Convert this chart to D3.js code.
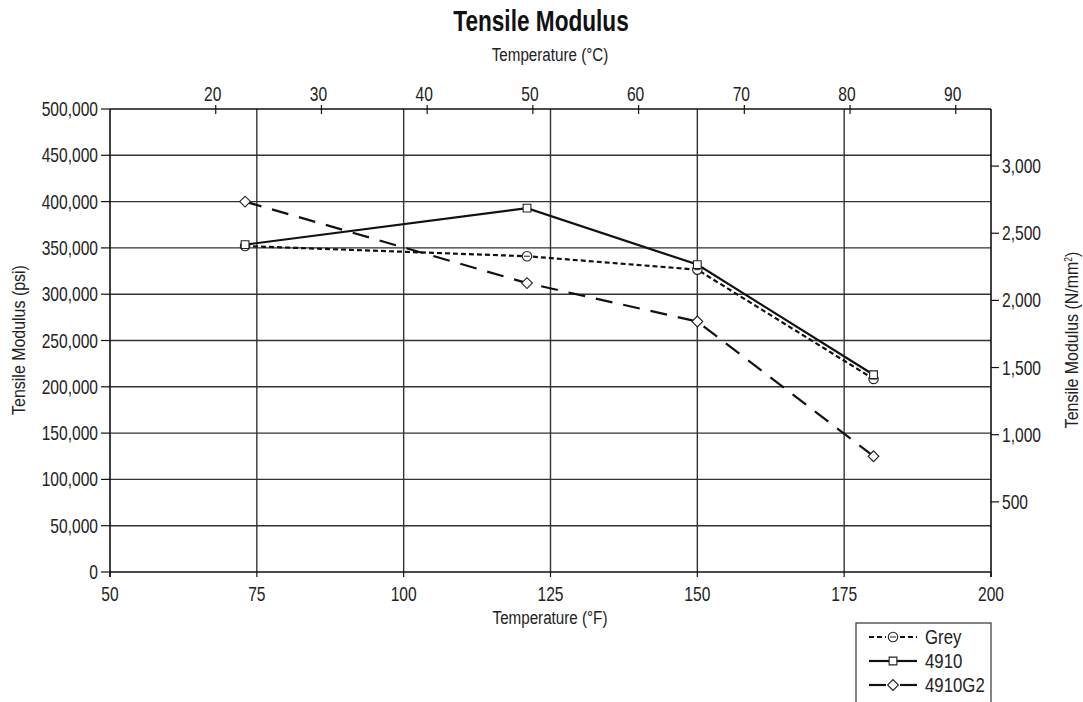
<!DOCTYPE html>
<html><head><meta charset="utf-8">
<script src="https://cdn.jsdelivr.net/npm/d3@7"></script>
<style>
body{margin:0;background:#fff;}
text{font-family:"Liberation Sans",Arial,sans-serif;fill:#222;}
</style></head>
<body><svg id="c" width="1083" height="702"></svg>
<script>
const tempsF = [73, 121, 150, 180];
const greyPsi = [352000, 341000, 326500, 208500];
const s4910Psi = [353500, 393000, 332000, 213000];
const s4910G2Psi = [400000, 312000, 270500, 125000];
const seriesNames = ["Grey", "4910", "4910G2"];
const xTicksF = [50, 75, 100, 125, 150, 175, 200];
const xTicksC = [20, 30, 40, 50, 60, 70, 80, 90];
const yTicksPsi = [0, 50000, 100000, 150000, 200000, 250000, 300000, 350000, 400000, 450000, 500000];
const yTicksN = [500, 1000, 1500, 2000, 2500, 3000];
const psiToN = 0.00689476;

const svg = d3.select("#c");
const L = 110, R = 991, T = 109, B = 572;
const x = d3.scaleLinear().domain([50, 200]).range([L, R]);
const xC = d3.scaleLinear().domain([(50-32)*5/9, (200-32)*5/9]).range([L, R]);
const y = d3.scaleLinear().domain([0, 500000]).range([B, T]);
const yR = d3.scaleLinear().domain([0, 500000*psiToN]).range([B-3, T-3]);
const fmt = d3.format(",");
const font = 20, SX = 0.78;

function ctext(parent, px, py, str, size, anchor, sx, rot) {
  const t = parent.append("text")
    .attr("transform", `translate(${px},${py})` + (rot ? ` rotate(${rot})` : "") + ` scale(${sx},1)`)
    .attr("text-anchor", anchor).attr("dy", "0.35em").attr("font-size", size);
  if (str !== null) t.text(str);
  return t;
}

// gridlines
const g = svg.append("g");
g.selectAll("line.h").data(yTicksPsi.filter(v => v > 0 && v < 500000)).join("line")
  .attr("x1", L).attr("x2", R).attr("y1", d => y(d)).attr("y2", d => y(d))
  .attr("stroke", "#333").attr("stroke-width", 1.4);
g.selectAll("line.v").data(xTicksF.filter(v => v > 50 && v < 200)).join("line")
  .attr("x1", d => x(d)).attr("x2", d => x(d)).attr("y1", T).attr("y2", B)
  .attr("stroke", "#333").attr("stroke-width", 1.4);

// axes
const ax = svg.append("g").attr("stroke", "#111").attr("stroke-width", 1.6);
ax.append("line").attr("x1", L).attr("x2", R).attr("y1", T).attr("y2", T);
ax.append("line").attr("x1", L).attr("x2", R).attr("y1", B).attr("y2", B);
ax.append("line").attr("x1", L).attr("x2", L).attr("y1", T).attr("y2", B + 5);
ax.append("line").attr("x1", R).attr("x2", R).attr("y1", T).attr("y2", B + 5);

const labels = svg.append("g");
// left ticks
ax.selectAll("line.lt").data(yTicksPsi).join("line")
  .attr("x1", L - 9).attr("x2", L).attr("y1", d => y(d)).attr("y2", d => y(d)).attr("stroke-width", 1.2);
yTicksPsi.forEach(d => ctext(labels, L - 12, y(d), fmt(d), font, "end", SX));

// bottom ticks
ax.selectAll("line.bt").data(xTicksF).join("line")
  .attr("x1", d => x(d)).attr("x2", d => x(d)).attr("y1", B).attr("y2", B + 5).attr("stroke-width", 1.2);
xTicksF.forEach(d => ctext(labels, x(d), B + 22, d, font, "middle", SX));

// top ticks (°C)
ax.selectAll("line.tt").data(xTicksC).join("line")
  .attr("x1", d => xC(d)).attr("x2", d => xC(d)).attr("y1", T - 4).attr("y2", T + 5).attr("stroke-width", 1.2);
xTicksC.forEach(d => ctext(labels, xC(d) - 3, T - 15, d, font, "middle", SX));

// right ticks
ax.selectAll("line.rt").data(yTicksN).join("line")
  .attr("x1", R).attr("x2", R + 8).attr("y1", d => yR(d)).attr("y2", d => yR(d)).attr("stroke-width", 1.2);
yTicksN.forEach(d => ctext(labels, R + 11, yR(d), fmt(d), font, "start", SX));

// titles
ctext(labels, 541, 21, "Tensile Modulus", 29, "middle", 0.78).attr("font-weight", "bold").style("fill", "#111");
ctext(labels, 550, 54, "Temperature (°C)", 19, "middle", 0.8);
ctext(labels, 550, 617, "Temperature (°F)", 19, "middle", 0.8);
ctext(labels, 18, 340, "Tensile Modulus (psi)", 19, "middle", 0.84, -90);
const rl = ctext(labels, 1071, 340, null, 19, "middle", 0.84, -90);
rl.append("tspan").text("Tensile Modulus (N/mm");
rl.append("tspan").attr("font-size", 10).attr("baseline-shift", "super").text("2");
rl.append("tspan").text(")");

// series
const series = [
  {name: seriesNames[0], vals: greyPsi, dash: "5,3", marker: "circle"},
  {name: seriesNames[1], vals: s4910Psi, dash: null, marker: "square"},
  {name: seriesNames[2], vals: s4910G2Psi, dash: "17,11", marker: "diamond"}
];
const line = d3.line().x(d => x(d[0])).y(d => y(d[1]));
const symType = {circle: d3.symbolCircle, square: d3.symbolSquare, diamond: d3.symbolSquare};
const symSize = {circle: 70, square: 60, diamond: 58};
const symRot = {circle: 0, square: 0, diamond: 45};

function marker(parent, cx, cy, m) {
  parent.append("path").attr("transform", `translate(${cx},${cy}) rotate(${symRot[m]})`)
    .attr("d", d3.symbol().type(symType[m]).size(symSize[m])())
    .attr("fill", "#fff").attr("stroke", "#222").attr("stroke-width", 1.1);
  if (m === "circle") parent.append("line").attr("x1", cx - 3).attr("x2", cx + 3)
    .attr("y1", cy).attr("y2", cy).attr("stroke", "#222").attr("stroke-width", 1);
}

series.forEach(s => {
  const pts = tempsF.map((t, i) => [t, s.vals[i]]);
  svg.append("path").datum(pts).attr("d", line).attr("fill", "none")
    .attr("stroke", "#111").attr("stroke-width", 2.2)
    .attr("stroke-dasharray", s.dash);
});
const mk = svg.append("g");
series.forEach(s => {
  tempsF.forEach((t, i) => marker(mk, x(t), y(s.vals[i]), s.marker));
});

// legend
const lg = svg.append("g");
lg.append("rect").attr("x", 856).attr("y", 623).attr("width", 135).attr("height", 95)
  .attr("fill", "#fff").attr("stroke", "#333").attr("stroke-width", 1.2);
const lys = [637, 661, 685];
series.forEach((s, i) => {
  const yy = lys[i];
  const da = i === 0 ? "5,3" : null;
  lg.append("line").attr("x1", 869).attr("x2", 886).attr("y1", yy).attr("y2", yy)
    .attr("stroke", "#111").attr("stroke-width", 2.2).attr("stroke-dasharray", da);
  lg.append("line").attr("x1", 900).attr("x2", 917).attr("y1", yy).attr("y2", yy)
    .attr("stroke", "#111").attr("stroke-width", 2.2).attr("stroke-dasharray", da);
  if (i === 1) lg.append("line").attr("x1", 886).attr("x2", 900).attr("y1", yy).attr("y2", yy)
    .attr("stroke", "#111").attr("stroke-width", 2.2);
  marker(lg, 893, yy, s.marker);
  ctext(lg, 925, yy, s.name, font, "start", 0.84);
});
</script></body></html>
